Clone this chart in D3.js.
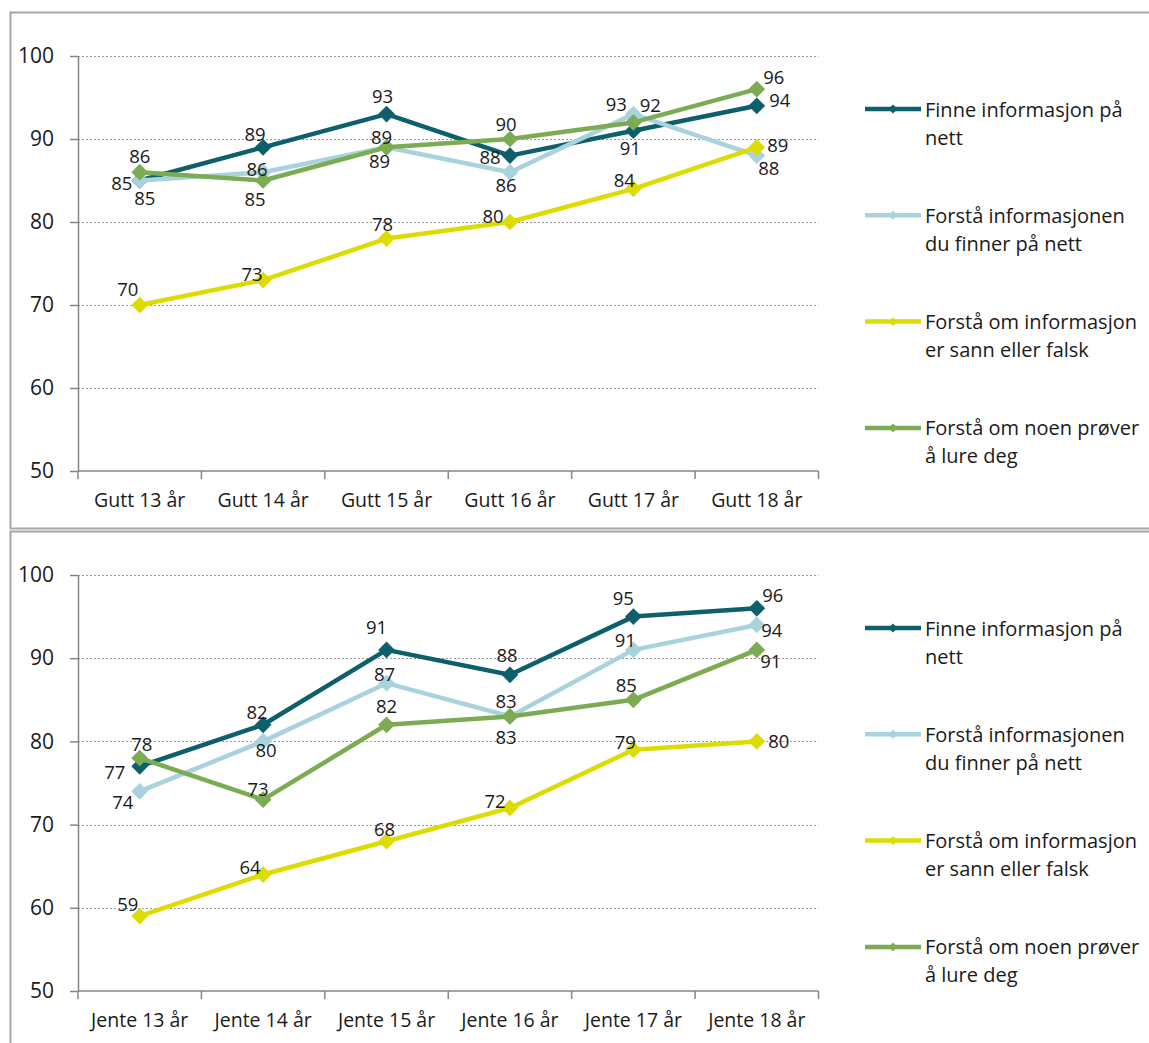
<!DOCTYPE html>
<html>
<head>
<meta charset="utf-8">
<script src="https://cdn.jsdelivr.net/npm/d3@7"></script>
<style>
  body { margin: 0; background: #fff; }
  svg text { font-family: "Open Sans", sans-serif; fill: #1a1a1a; }
</style>
</head>
<body>
<svg id="chart" width="1149" height="1043"></svg>
<script>
/* Categories on the two x axes */
var guttCategories = ["Gutt 13 år", "Gutt 14 år", "Gutt 15 år", "Gutt 16 år", "Gutt 17 år", "Gutt 18 år"];
var jenteCategories = ["Jente 13 år", "Jente 14 år", "Jente 15 år", "Jente 16 år", "Jente 17 år", "Jente 18 år"];

/* Series names, as in the legend */
var seriesNames = [
    ["Finne informasjon på", "nett"],
    ["Forstå informasjonen", "du finner på nett"],
    ["Forstå om informasjon", "er sann eller falsk"],
    ["Forstå om noen prøver", "å lure deg"]
];

/* Values, boys */
var guttFinne = [85, 89, 93, 88, 91, 94];
var guttForsta = [85, 86, 89, 86, 93, 88];
var guttSann = [70, 73, 78, 80, 84, 89];
var guttLure = [86, 85, 89, 90, 92, 96];

/* Values, girls */
var jenteFinne = [77, 82, 91, 88, 95, 96];
var jenteForsta = [74, 80, 87, 83, 91, 94];
var jenteSann = [59, 64, 68, 72, 79, 80];
var jenteLure = [78, 73, 82, 83, 85, 91];

/* y axis ticks */
var yTicks = [50, 60, 70, 80, 90, 100];

var colors = ["#0d5f6b", "#a9d3dc", "#dcdc00", "#7bab52"];

/* Nudges of the data labels from their point (label centre), per series and category */
var guttLabelNudge = [
    [[-18, 2], [-8, -14], [-4, -19], [-20, 1], [-3, 17], [23, -6]],
    [[5, 17], [-6, -4], [-5, -11], [-4, 12], [-17, -11], [12, 12]],
    [[-12, -17], [-11, -7], [-4, -15], [-17, -7], [-9, -9], [21, -3]],
    [[0, -17], [-8, 18], [-7, 13], [-4, -16], [17, -18], [17, -13]]
];
var jenteLabelNudge = [
    [[-25, 5], [-6, -13], [-10, -23], [-3, -20], [-10, -19], [16, -14]],
    [[-17, 10], [3, 8], [-2, -10], [-4, -16], [-8, -10], [15, 5]],
    [[-12, -13], [-13, -8], [-2, -13], [-15, -7], [-8, -8], [22, -1]],
    [[2, -15], [-5, -11], [0, -19], [-4, 20], [-7, -15], [14, 11]]
];

var svg = d3.select("#chart");

/**
 * Draws one of the two line charts, with its frame, axes, lines, labels and legend.
 */
function drawPanel(frameTop, frameHeight, plotTop, plotBottom, categories, series, nudges){
    // Frame round the chart
    svg.append("rect")
        .attr("x", 10.5).attr("y", frameTop + 0.5)
        .attr("width", 1200).attr("height", frameHeight)
        .attr("fill", "none")
        .attr("stroke", "#a6a6a6")
        .attr("stroke-width", 2);

    var xBand = d3.scaleBand().domain(categories).range([78, 818.5]);
    var x = function(c) { return xBand(c) + xBand.bandwidth() / 2; };
    var y = d3.scaleLinear().domain([50, 100]).range([plotBottom, plotTop]);

    // Dotted gridlines
    svg.append("g").selectAll("line")
        .data(yTicks.filter(function(t) { return t > 50; }))
        .enter().append("line")
        .attr("x1", 78).attr("x2", 818.5)
        .attr("y1", function(t) { return Math.round(y(t)) + 0.5; })
        .attr("y2", function(t) { return Math.round(y(t)) + 0.5; })
        .attr("stroke", "#9a9a9a")
        .attr("stroke-dasharray", "2,2");

    // y axis
    var yAxis = svg.append("g")
        .attr("transform", "translate(78,0)")
        .call(d3.axisLeft(y).tickValues(yTicks).tickSize(8).tickPadding(16).tickSizeOuter(0));
    yAxis.select(".domain").attr("stroke", "#868686").attr("stroke-width", 1.5);
    yAxis.selectAll(".tick line").attr("stroke", "#868686").attr("stroke-width", 1.5);
    yAxis.selectAll(".tick text")
        .style("font-family", "'Open Sans', sans-serif")
        .style("font-size", "21px")
        .attr("fill", "#1a1a1a");

    // x axis: ticks between the categories, labels at their centres
    var xAxis = svg.append("g").attr("transform", "translate(0," + plotBottom + ")");
    xAxis.append("line")
        .attr("x1", 78).attr("x2", 818.5)
        .attr("stroke", "#868686").attr("stroke-width", 1.5);
    var edges = categories.map(function(c) { return xBand(c); }).concat([xBand.range()[1]]);
    xAxis.selectAll(".xtick")
        .data(edges)
        .enter().append("line")
        .attr("x1", function(e) { return e; }).attr("x2", function(e) { return e; })
        .attr("y1", 0).attr("y2", 8)
        .attr("stroke", "#868686").attr("stroke-width", 1.5);
    xAxis.selectAll(".xlabel")
        .data(categories)
        .enter().append("text")
        .attr("x", function(c) { return x(c); })
        .attr("y", 36)
        .attr("text-anchor", "middle")
        .style("font-size", "19.5px")
        .text(function(c) { return c; });

    var line = d3.line()
        .x(function(d) { return x(d.cat); })
        .y(function(d) { return y(d.value); });
    var diamond = d3.symbol().type(d3.symbolSquare).size(140);

    series.forEach(function(values, i){
        var points = values.map(function(v, j) { return { cat: categories[j], value: v }; });

        svg.append("path")
            .datum(points)
            .attr("fill", "none")
            .attr("stroke", colors[i])
            .attr("stroke-width", 4.5)
            .attr("stroke-linejoin", "round")
            .attr("d", line);

        svg.append("g").selectAll("path")
            .data(points)
            .enter().append("path")
            .attr("d", diamond)
            .attr("fill", colors[i])
            .attr("transform", function(d) {
                return "translate(" + x(d.cat) + "," + y(d.value) + ") rotate(45)";
            });
    });

    // Data labels go on top of all the lines
    series.forEach(function(values, i){
        svg.append("g").selectAll("text")
            .data(values)
            .enter().append("text")
            .attr("x", function(v, j) { return x(categories[j]) + nudges[i][j][0]; })
            .attr("y", function(v, j) { return y(v) + nudges[i][j][1]; })
            .attr("text-anchor", "middle")
            .attr("dominant-baseline", "central")
            .style("font-size", "18.5px")
            .text(function(v) { return v; });
    });

    // Legend
    var legendTop = plotTop + 53;
    var legendDiamond = d3.symbol().type(d3.symbolSquare).size(40);
    seriesNames.forEach(function(name, i){
        var ly = legendTop + i * 106.3;
        var item = svg.append("g").attr("transform", "translate(0," + ly + ")");
        item.append("line")
            .attr("x1", 865).attr("x2", 921)
            .attr("stroke", colors[i]).attr("stroke-width", 4.5);
        item.append("path")
            .attr("d", legendDiamond)
            .attr("fill", colors[i])
            .attr("transform", "translate(893,0) rotate(45)");
        item.selectAll("text")
            .data(name)
            .enter().append("text")
            .attr("x", 925)
            .attr("y", function(t, k) { return k * 28; })
            .attr("dominant-baseline", "central")
            .style("font-size", "20px")
            .text(function(t) { return t; });
    });
}

drawPanel(12, 516, 56, 471, guttCategories,
    [guttFinne, guttForsta, guttSann, guttLure], guttLabelNudge);
drawPanel(531, 600, 575, 991, jenteCategories,
    [jenteFinne, jenteForsta, jenteSann, jenteLure], jenteLabelNudge);
</script>
</body>
</html>
